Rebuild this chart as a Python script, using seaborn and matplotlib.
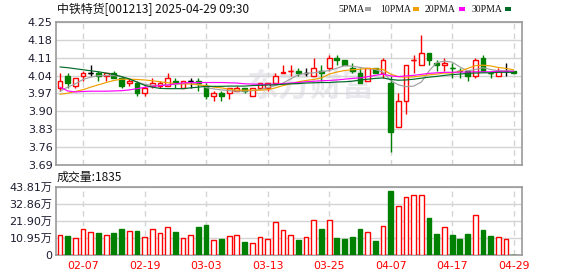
import numpy as np
import pandas as pd
import matplotlib
matplotlib.use("Agg")
import matplotlib.pyplot as plt
import seaborn as sns
from matplotlib.patches import Rectangle

# ---------------- data ----------------
title = "中铁特货[001213] 2025-04-29 09:30"
dates = ["01-27", "02-05", "02-06", "02-07", "02-10", "02-11", "02-12", "02-13", "02-14",
         "02-17", "02-18", "02-19", "02-20", "02-21", "02-24", "02-25", "02-26", "02-27",
         "02-28", "03-03", "03-04", "03-05", "03-06", "03-07", "03-10", "03-11", "03-12",
         "03-13", "03-14", "03-17", "03-18", "03-19", "03-20", "03-21", "03-24", "03-25",
         "03-26", "03-27", "03-28", "03-31", "04-01", "04-02", "04-03", "04-07", "04-08",
         "04-09", "04-10", "04-11", "04-14", "04-15", "04-16", "04-17", "04-18", "04-21",
         "04-22", "04-23", "04-24", "04-25", "04-28", "04-29"]
opens = [3.99, 4.04, 4.00, 4.04, 4.05, 4.05, 4.04, 4.05, 4.03, 4.01,
         4.01, 3.97, 4.00, 4.00, 4.00, 4.02, 3.99, 4.02, 4.02, 4.00,
         3.96, 3.97, 3.97, 3.98, 3.99, 3.96, 3.99, 3.99, 4.01, 4.05,
         4.06, 4.06, 4.05, 4.04, 4.06, 4.07, 4.11, 4.10, 4.07, 4.05,
         4.02, 4.07, 4.05, 4.01, 3.84, 3.94, 4.10, 4.08, 4.13, 4.09,
         4.08, 4.07, 4.06, 4.06, 4.04, 4.11, 4.05, 4.04, 4.06, 4.06]
highs = [4.05, 4.05, 4.03, 4.06, 4.08, 4.06, 4.05, 4.06, 4.04, 4.03,
         4.02, 4.00, 4.03, 4.02, 4.05, 4.03, 4.02, 4.03, 4.03, 4.01,
         3.98, 3.98, 3.99, 4.00, 3.99, 3.99, 4.01, 4.01, 4.05, 4.08,
         4.08, 4.07, 4.07, 4.11, 4.08, 4.12, 4.12, 4.10, 4.09, 4.07,
         4.07, 4.07, 4.11, 4.04, 3.97, 4.08, 4.12, 4.20, 4.13, 4.10,
         4.11, 4.09, 4.07, 4.06, 4.11, 4.12, 4.06, 4.07, 4.09, 4.06]
lows = [3.98, 3.99, 3.99, 4.02, 4.04, 4.02, 4.02, 4.03, 3.99, 4.00,
        3.96, 3.96, 3.99, 3.99, 4.00, 3.99, 3.99, 3.99, 3.98, 3.95,
        3.94, 3.94, 3.95, 3.98, 3.97, 3.96, 3.99, 3.98, 4.01, 4.05,
        4.04, 4.04, 4.04, 4.04, 4.02, 4.06, 4.08, 4.08, 4.05, 4.01,
        4.02, 4.05, 4.03, 3.74, 3.84, 3.89, 4.05, 4.08, 4.08, 4.06,
        4.06, 4.03, 4.03, 4.02, 4.03, 4.06, 4.03, 4.04, 4.04, 4.05]
closes = [4.02, 4.01, 4.03, 4.05, 4.05, 4.04, 4.05, 4.03, 4.00, 4.02,
          3.97, 3.99, 4.01, 4.01, 4.03, 4.01, 4.02, 4.02, 4.01, 3.96,
          3.97, 3.96, 3.99, 3.99, 3.98, 3.99, 4.01, 4.01, 4.04, 4.055,
          4.06, 4.05, 4.05, 4.07, 4.05, 4.11, 4.10, 4.08, 4.06, 4.01,
          4.07, 4.05, 4.10, 3.82, 3.94, 4.08, 4.10, 4.13, 4.10, 4.08,
          4.09, 4.07, 4.06, 4.04, 4.10, 4.06, 4.05, 4.06, 4.06, 4.05]
ma5 = [3.979, 3.995, 4.008, 4.025, 4.034, 4.040, 4.040, 4.040, 4.036, 4.027,
       4.015, 4.006, 4.002, 4.002, 4.004, 4.006, 4.008, 4.012, 4.006, 3.993,
       3.988, 3.984, 3.981, 3.979, 3.979, 3.981, 3.985, 3.993, 4.001, 4.011,
       4.027, 4.044, 4.049, 4.051, 4.055, 4.060, 4.069, 4.079, 4.077, 4.072,
       4.068, 4.064, 4.054, 4.021, 4.004, 3.997, 3.999, 4.015, 4.059, 4.091,
       4.097, 4.093, 4.074, 4.059, 4.064, 4.071, 4.064, 4.059, 4.059, 4.057]
ma10 = [3.967, 3.971, 3.978, 3.985, 3.995, 4.004, 4.013, 4.021, 4.026, 4.026,
        4.025, 4.023, 4.020, 4.016, 4.012, 4.009, 4.008, 4.007, 4.004, 4.001,
        3.995, 3.992, 3.987, 3.983, 3.983, 3.983, 3.983, 3.985, 3.992, 4.001,
        4.008, 4.016, 4.021, 4.025, 4.031, 4.046, 4.054, 4.060, 4.063, 4.065,
        4.068, 4.067, 4.064, 4.046, 4.036, 4.034, 4.035, 4.039, 4.043, 4.046,
        4.050, 4.050, 4.057, 4.068, 4.079, 4.081, 4.078, 4.072, 4.068, 4.063]
ma20 = [3.995, 3.980, 3.976, 3.978, 3.979, 3.979, 3.979, 3.980, 3.981, 3.984,
        3.989, 3.994, 3.998, 4.001, 4.003, 4.008, 4.011, 4.013, 4.013, 4.013,
        4.013, 4.013, 4.012, 4.011, 4.008, 4.007, 4.006, 4.006, 4.007, 4.009,
        4.011, 4.013, 4.016, 4.018, 4.020, 4.021, 4.023, 4.026, 4.029, 4.031,
        4.036, 4.041, 4.046, 4.039, 4.036, 4.039, 4.041, 4.045, 4.049, 4.051,
        4.053, 4.053, 4.054, 4.054, 4.055, 4.055, 4.055, 4.057, 4.057, 4.057]
ma30 = [4.074, 4.071, 4.067, 4.063, 4.059, 4.055, 4.050, 4.045, 4.036, 4.027,
        4.015, 4.002, 3.995, 3.990, 3.989, 3.989, 3.989, 3.992, 3.995, 3.998,
        3.998, 3.998, 3.999, 3.999, 3.999, 4.001, 4.002, 4.003, 4.004, 4.006,
        4.008, 4.009, 4.011, 4.012, 4.013, 4.013, 4.015, 4.016, 4.018, 4.023,
        4.026, 4.029, 4.031, 4.025, 4.022, 4.023, 4.026, 4.030, 4.034, 4.037,
        4.041, 4.044, 4.046, 4.049, 4.050, 4.051, 4.051, 4.053, 4.053, 4.053]
volume = [12.8, 12.2, 10.7, 16.5, 14.5, 14.1, 12.8, 14.1, 16.7, 15.2,
          15.4, 11.5, 16.7, 13.9, 18.0, 14.7, 10.9, 13.2, 18.0, 19.2,
          9.6, 10.3, 12.2, 12.8, 8.3, 7.7, 11.5, 10.3, 21.2, 16.0,
          12.8, 9.6, 11.5, 22.4, 16.9, 22.4, 11.1, 10.3, 11.8, 16.9,
          14.7, 9.0, 18.6, 41.0, 31.4, 37.2, 38.5, 38.5, 23.9, 13.5,
          18.2, 12.8, 10.5, 13.5, 25.6, 16.0, 12.4, 11.5, 10.3, 0.18]  # 万
last_volume_text = "成交量:1835"
price_ticks = [3.69, 3.76, 3.83, 3.90, 3.97, 4.04, 4.11, 4.18, 4.25]
vol_ticks = [0, 10.95, 21.90, 32.86, 43.81]
ma_names = ["5PMA", "10PMA", "20PMA", "30PMA"]

# ---------------- styling ----------------
RED, GREEN, BLACK = "#ff0000", "#008000", "#000000"
MA_COLORS = ["#a0a0a0", "#f0a000", "#ff00ff", "#006a28"]
FRAME = "#999999"
GRID = "#d4d4d4"
TXT = "#1c1c30"
CJK = ["DejaVu Sans", "Noto Sans CJK SC"]

sns.set_style("white")
plt.rcParams["font.family"] = ["DejaVu Sans", "Noto Sans CJK SC"]

W, H = 578, 276
fig = plt.figure(figsize=(W / 100, H / 100), dpi=100)
fig.patch.set_facecolor("white")

def px_axes(l, t, r, b):
    return fig.add_axes([l / W, 1 - b / H, (r - l) / W, (b - t) / H])

ax = px_axes(56, 22, 522, 165)
axv = px_axes(56, 187, 522, 255)

df = pd.DataFrame(dict(date=dates, open=opens, high=highs, low=lows, close=closes,
                       vol=volume, ma5=ma5, ma10=ma10, ma20=ma20, ma30=ma30))
df["x"] = np.arange(len(df))
prev = df["close"].shift(1).fillna(df["open"])
state = np.where(df.close > df.open, "up",
         np.where(df.close < df.open, "down",
          np.where(df.close > prev, "up", np.where(df.close < prev, "down", "flat"))))
edge = {"up": RED, "down": GREEN, "flat": BLACK}
face = {"up": "white", "down": GREEN, "flat": BLACK}
ecol = [edge[s] for s in state]
fcol = [face[s] for s in state]

xlim = (-0.52, 60.08)
bw = 0.62

# watermark
ax.text(0.545, 0.54, "东方财富", transform=ax.transAxes, ha="center", va="center",
        fontsize=23, fontweight="bold", color="#e9e9ee", family="Noto Sans CJK SC", zorder=0)

# wicks + bodies
ax.vlines(df.x, df.low, df.high, colors=ecol, lw=1, zorder=3)
body_lo = np.minimum(df.open, df.close)
body_h = np.abs(df.close - df.open)
ax.bar(df.x, body_h, bottom=body_lo, width=bw, color=fcol, edgecolor=ecol, lw=1, zorder=4)
doji = body_h < 1e-9
ax.hlines(df.close[doji], df.x[doji] - bw / 2, df.x[doji] + bw / 2,
          colors=[c for c, d in zip(ecol, doji) if d], lw=1, zorder=4)

# moving averages
for name, col in zip(["ma5", "ma10", "ma20", "ma30"], MA_COLORS):
    sns.lineplot(data=df, x="x", y=name, color=col, lw=0.85, ax=ax, zorder=5)

ax.set_xlim(*xlim)
ax.set_ylim(price_ticks[0], price_ticks[-1])
ax.set_yticks(price_ticks)
ax.set_yticklabels([f"{t:.2f}" for t in price_ticks])
ax.set_xlabel("")
ax.set_ylabel("")

# volume
vcol = [RED if s != "down" else GREEN for s in state]
vface = ["white" if s != "down" else GREEN for s in state]
axv.bar(df.x, df.vol, width=bw, color=vface, edgecolor=vcol, lw=1, zorder=3)
axv.set_xlim(*xlim)
axv.set_ylim(0, vol_ticks[-1])
axv.set_yticks(vol_ticks)
axv.set_yticklabels(["0"] + [f"{t:.2f}万" for t in vol_ticks[1:]])

tick_idx = list(range(3, len(dates), 8))
for a in (ax, axv):
    a.set_xticks(tick_idx)
    a.grid(axis="y", color=GRID, lw=1, ls="-", zorder=1)
    a.grid(axis="x", color=GRID, lw=1, ls=(0, (4, 3)), zorder=1)
    for sp in a.spines.values():
        sp.set_color(FRAME)
        sp.set_linewidth(1.2)
        sp.set_visible(True)
    a.tick_params(length=0, labelsize=8, colors=TXT, pad=2.5)
    a.set_facecolor("none")
ax.set_xticklabels([])
axv.set_xticklabels([dates[i] for i in tick_idx], color=RED, fontsize=7.8)
axv.tick_params(axis="x", pad=4)
for lab in axv.get_yticklabels():
    lab.set_family(CJK)

# title and legend
fig.text(57 / W, 1 - 9 / H, title, fontsize=8.6, color="#111111",
         family=["Noto Sans CJK SC", "DejaVu Sans"], va="center", ha="left")
fig.text(57 / W, 1 - 177 / H, last_volume_text, fontsize=8.6, color="#111111",
         family=["Noto Sans CJK SC", "DejaVu Sans"], va="center", ha="left")

legend_text_x = [338, 380, 425, 472]
legend_box_x = [365, 413, 459, 505]
for name, col, x0, bx in zip(ma_names, MA_COLORS, legend_text_x, legend_box_x):
    fig.text(x0 / W, 1 - 9 / H, name, fontsize=7.0, color="#111111",
             family="Liberation Serif", va="center", ha="left")
    fig.add_artist(Rectangle((bx / W, 1 - 10.5 / H), 6 / W, 3.5 / H,
                             transform=fig.transFigure, color=col, lw=0))

fig.savefig("out.png", dpi=100, facecolor="white")
